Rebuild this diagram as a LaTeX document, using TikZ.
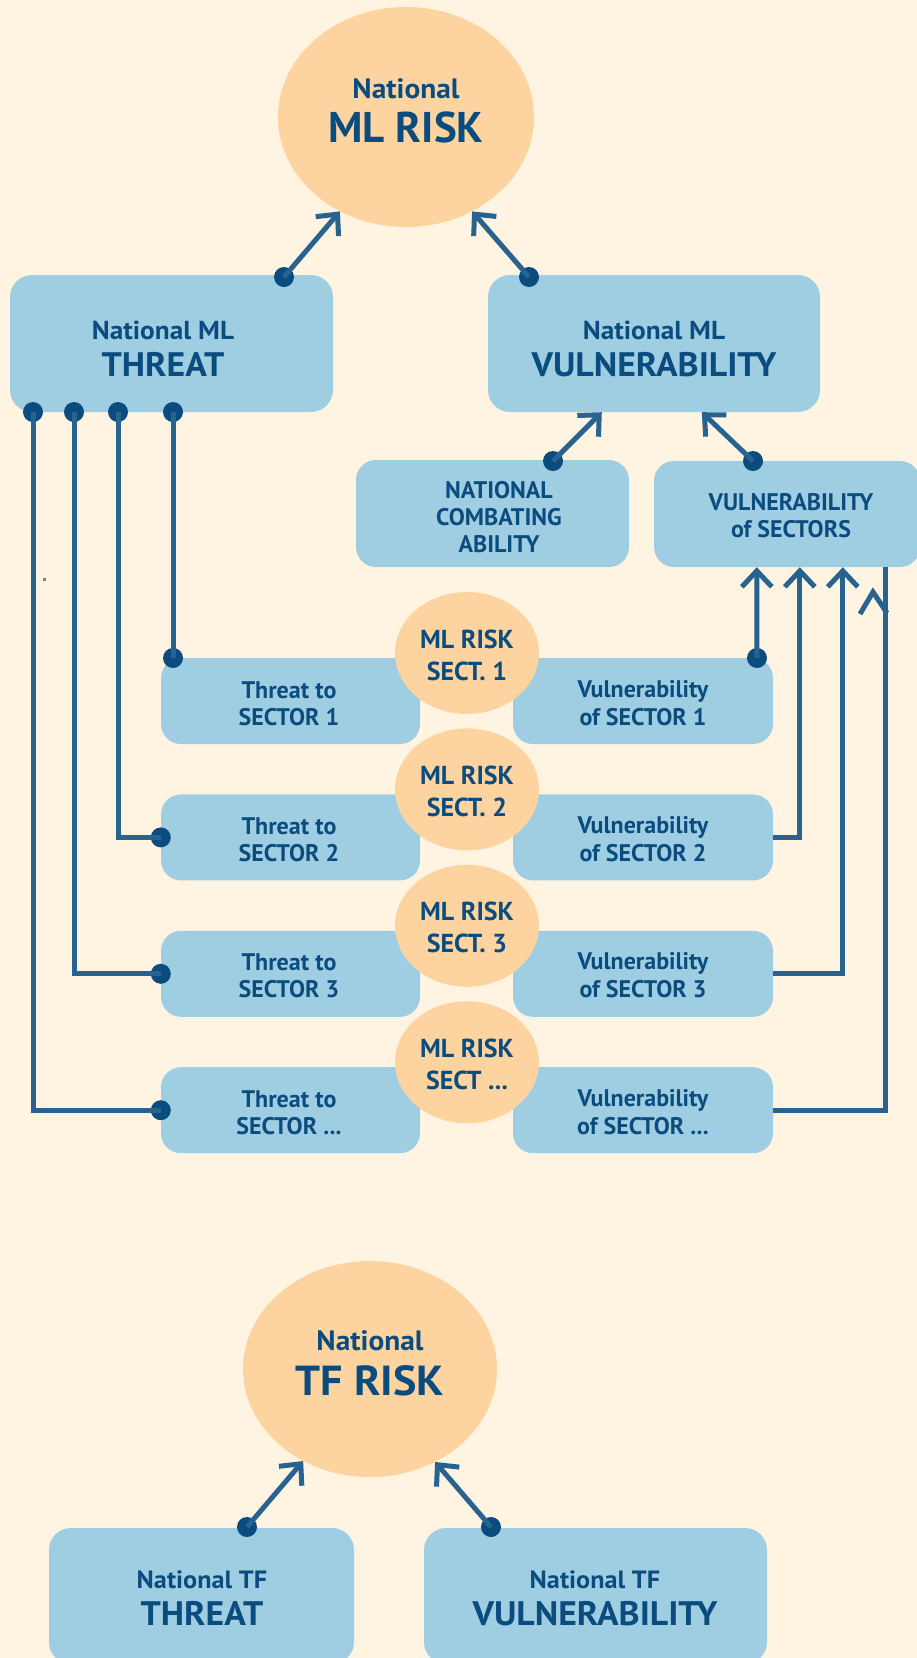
\documentclass[tikz,border=0pt]{standalone}
\usepackage{fontspec}
\newfontfamily\ptsans{PT Sans}
\newfontfamily\ptwide{PT Sans}[FakeStretch=1.05]
\usetikzlibrary{shapes.geometric,arrows.meta,calc}
\definecolor{bgc}{HTML}{FFF3E1}
\definecolor{ellc}{HTML}{FDD39F}
\definecolor{boxc}{HTML}{9FCEE3}
\definecolor{txtc}{HTML}{0B4C7F}
\definecolor{linec}{HTML}{286390}
\definecolor{dotc}{HTML}{0A4C80}
\definecolor{speckc}{HTML}{8A807A}
\tikzset{
  oval/.style={ellipse, fill=ellc, inner sep=0pt},
  panel/.style={rectangle, rounded corners=20pt, fill=boxc, inner sep=0pt},
  lbl/.style={text=txtc, inner sep=0pt, anchor=base},
  sz/.style={font=\ptsans\bfseries\fontsize{#1pt}{#1pt}\selectfont},
  wz/.style={font=\ptwide\bfseries\fontsize{#1pt}{#1pt}\selectfont},
  dotn/.style={circle, fill=dotc, minimum size=20pt, inner sep=0pt},
  wire/.style={draw=linec, line width=5pt},
  arr/.style={wire, -{Straight Barb[length=16pt,width=30pt,line width=5pt]}},
}
\begin{document}
\begin{tikzpicture}[x=1pt,y=-1pt]
\useasboundingbox (0,0) rectangle (917,1658);
\fill[bgc] (0,0) rectangle (917,1658);
\fill[speckc] (43,578) rectangle (46,581);

% ---------------- ML part: shapes
\node[oval, minimum width=256pt, minimum height=220pt] (mlrisk) at (406,117) {};
\node[panel, rounded corners=22pt, minimum width=323pt, minimum height=137pt] (mlthr) at (171.5,343.5) {};
\node[panel, rounded corners=22pt, minimum width=332pt, minimum height=137pt] (mlvul) at (654,343.5) {};
\node[panel, minimum width=273pt, minimum height=107pt] (comb) at (492.5,513.5) {};
\node[panel, minimum width=266pt, minimum height=106pt] (secs) at (787,514) {};

\foreach \k/\st/\sv in {0/{SECTOR 1}/{of SECTOR 1},
                         1/{SECTOR 2}/{of SECTOR 2},
                         2/{SECTOR 3}/{of SECTOR 3},
                         3/{SECTOR ...}/{of SECTOR ...}}{
  \pgfmathsetmacro\o{136.4*\k}
  \node[panel, minimum width=259pt, minimum height=86pt] (thr\k) at (290.5,701+\o) {};
  \node[panel, minimum width=260pt, minimum height=86pt] (vul\k) at (643,701+\o) {};
  \node[lbl, sz=24] (thrA\k) at (289,698+\o) {Threat to};
  \node[lbl, sz=24] (thrB\k) at (289,725+\o) {\st};
  \node[lbl, sz=24] (vulA\k) at (643,697+\o) {Vulnerability};
  \node[lbl, sz=24] (vulB\k) at (643,725+\o) {\sv};
}
\foreach \k/\sr in {0/{SECT. 1}, 1/{SECT. 2}, 2/{SECT. 3}, 3/{SECT ...}}{
  \pgfmathsetmacro\o{136.4*\k}
  \node[oval, minimum width=144pt, minimum height=122pt] (sr\k) at (467,653+\o) {};
  \node[lbl, sz=26] (srA\k) at (467,648+\o) {ML RISK};
  \node[lbl, sz=26] (srB\k) at (467,680+\o) {\sr};
}

% ---------------- ML texts
\node[lbl, wz=28] (mlriskA) at (406,98) {National};
\node[lbl, sz=43] (mlriskB) at (406,142) {ML RISK};
\node[lbl, wz=26] (mlthrA) at (163,339) {National ML};
\node[lbl, wz=34] (mlthrB) at (163,376) {THREAT};
\node[lbl, wz=26] (mlvulA) at (654,339) {National ML};
\node[lbl, wz=34] (mlvulB) at (654,376) {VULNERABILITY};
\node[lbl, sz=24] (combA) at (499,498) {NATIONAL};
\node[lbl, sz=24] (combB) at (499,525) {COMBATING};
\node[lbl, sz=24] (combC) at (499,552) {ABILITY};
\node[lbl, sz=24] (secsA) at (791,510) {VULNERABILITY};
\node[lbl, sz=24] (secsB) at (791,537) {of SECTORS};

% ---------------- ML dots
\node[dotn] (dthr) at (284,277) {};
\node[dotn] (dvul) at (529,277) {};
\node[dotn] (dcomb) at (553,461) {};
\node[dotn] (dsecs) at (753,461) {};
\node[dotn] (b1) at (33,412) {};
\node[dotn] (b2) at (74,412) {};
\node[dotn] (b3) at (118,412) {};
\node[dotn] (b4) at (173,412) {};
\node[dotn] (e0) at (173,658) {};
\node[dotn] (e1) at (thr1.west) {};
\node[dotn] (e2) at (thr2.west) {};
\node[dotn] (e3) at (thr3.west) {};
\node[dotn] (f0) at (757,658) {};

\coordinate (vA) at ([xshift=114pt]mlvul.south west);
\coordinate (vB) at ([xshift=214pt]mlvul.south west);
\coordinate (s0) at ([xshift=103pt]secs.south west);
\coordinate (s1) at ([xshift=146pt]secs.south west);
\coordinate (s2) at ([xshift=189pt]secs.south west);
\coordinate (s3) at ([xshift=232pt]secs.south west);

% ---------------- ML connectors
\draw[arr] (dthr.center) -- (mlrisk.-125);
\draw[arr] (dvul.center) -- (mlrisk.-55);
\draw[arr] (dcomb.center) -- (vA);
\draw[arr] (dsecs.center) -- (vB);
\draw[wire] (b4.center) -- (e0.center);
\draw[wire] (b3.center) |- (e1.center);
\draw[wire] (b2.center) |- (e2.center);
\draw[wire] (b1.center) |- (e3.center);
\draw[arr] (f0.center) -- (s0);
\draw[arr] (vul1.east) -| (s1);
\draw[arr] (vul2.east) -| (s2);
\draw[wire] (vul3.east) -| (s3);
\draw[wire] (860,614) -- (873,592) -- (887,613);

% ---------------- TF part
\node[oval, minimum width=254pt, minimum height=216pt] (tfrisk) at (370,1369) {};
\node[panel, rounded corners=22pt, minimum width=305pt, minimum height=136pt] (tfthr) at (201.5,1596) {};
\node[panel, rounded corners=22pt, minimum width=343pt, minimum height=136pt] (tfvul) at (595.5,1596) {};
\node[lbl, wz=28] (tfriskA) at (370,1350) {National};
\node[lbl, wz=42] (tfriskB) at (370,1395) {TF RISK};
\node[lbl, wz=25] (tfthrA) at (202,1588) {National TF};
\node[lbl, wz=34] (tfthrB) at (202,1625) {THREAT};
\node[lbl, wz=25] (tfvulA) at (595,1588) {National TF};
\node[lbl, wz=34] (tfvulB) at (595,1625) {VULNERABILITY};
\node[dotn] (dtft) at (247,1527) {};
\node[dotn] (dtfv) at (491,1527) {};
\draw[arr] (dtft.center) -- (tfrisk.-126);
\draw[arr] (dtfv.center) -- (tfrisk.-55);
\end{tikzpicture}
\end{document}
